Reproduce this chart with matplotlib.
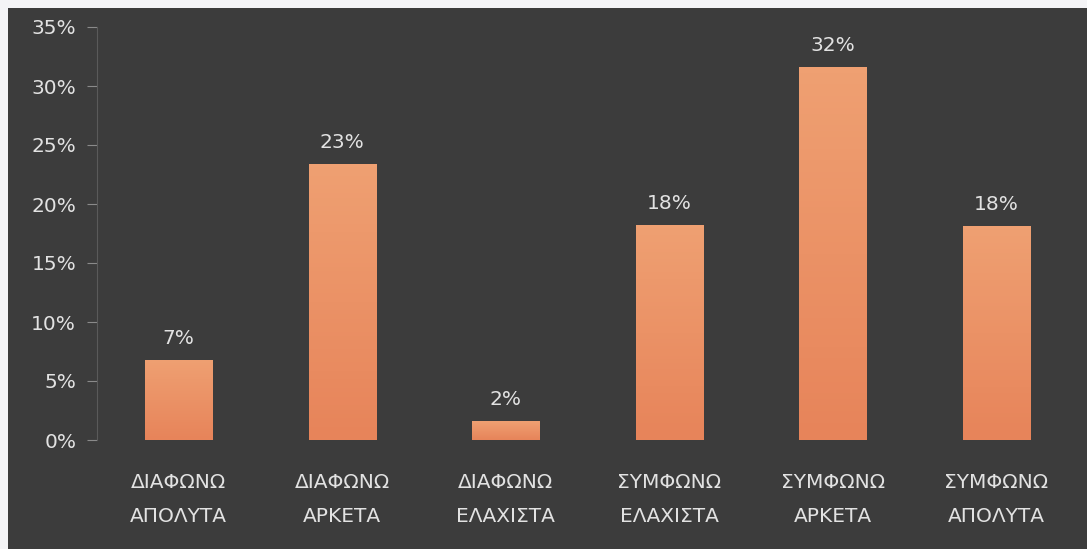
import numpy as np
import matplotlib.pyplot as plt
from matplotlib.colors import LinearSegmentedColormap
from matplotlib.patches import Rectangle
from matplotlib.ticker import PercentFormatter

plt.rcParams['font.family'] = ['DejaVu Sans']

categories = ['ΔΙΑΦΩΝΩ\nΑΠΟΛΥΤΑ', 'ΔΙΑΦΩΝΩ\nΑΡΚΕΤΑ', 'ΔΙΑΦΩΝΩ\nΕΛΑΧΙΣΤΑ',
              'ΣΥΜΦΩΝΩ\nΕΛΑΧΙΣΤΑ', 'ΣΥΜΦΩΝΩ\nΑΡΚΕΤΑ', 'ΣΥΜΦΩΝΩ\nΑΠΟΛΥΤΑ']
shares = [6.8, 23.4, 1.6, 18.2, 31.6, 18.1]

bg = '#3c3c3c'
fg = '#e2e2e2'
# orange fill, a touch lighter at the top of each bar
bar_cmap = LinearSegmentedColormap.from_list('bar', ['#e7845a', '#efa072'])

fig = plt.figure(figsize=(10.87, 5.49), dpi=100, facecolor='#f4f4f6')
fig.patches.append(Rectangle((8 / 1087, 0), 1, (549 - 8) / 549,
                             transform=fig.transFigure, facecolor=bg,
                             edgecolor='none', zorder=-10))
ax = fig.add_axes([97 / 1087, (549 - 440) / 549, 981 / 1087, 413 / 549])
ax.set_facecolor('none')

x = range(len(categories))
bars = ax.bar(x, shares, width=0.41, color='#eb915f')
grad = np.linspace(0, 1, 64).reshape(-1, 1)
for rect, v in zip(bars, shares):
    x0 = rect.get_x()
    w = rect.get_width()
    im = ax.imshow(grad, cmap=bar_cmap, origin='lower', aspect='auto',
                   extent=(x0, x0 + w, 0, v), zorder=rect.get_zorder() + 0.1)
    im.set_clip_path(rect)
    ax.text(x0 + w / 2, v + 1.35, f'{v:.0f}%',
            ha='center', va='baseline', color=fg, fontsize=14.5)

ax.set_xlim(-0.5, len(categories) - 0.5)
ax.set_ylim(0, 35)
ax.set_yticks(range(0, 36, 5))
ax.yaxis.set_major_formatter(PercentFormatter(decimals=0))
ax.set_xticks(list(x))
ax.set_xticklabels(categories, linespacing=1.95)

ax.tick_params(axis='y', colors='#8a8a8a', labelcolor=fg, labelsize=14.5,
               length=7, pad=8)
ax.tick_params(axis='x', length=0, labelcolor=fg, labelsize=14.5, pad=24)
for s in ['top', 'right', 'bottom']:
    ax.spines[s].set_visible(False)
ax.spines['left'].set_color('#5a5a5a')

fig.savefig('out.png', dpi=100, facecolor=fig.get_facecolor())
